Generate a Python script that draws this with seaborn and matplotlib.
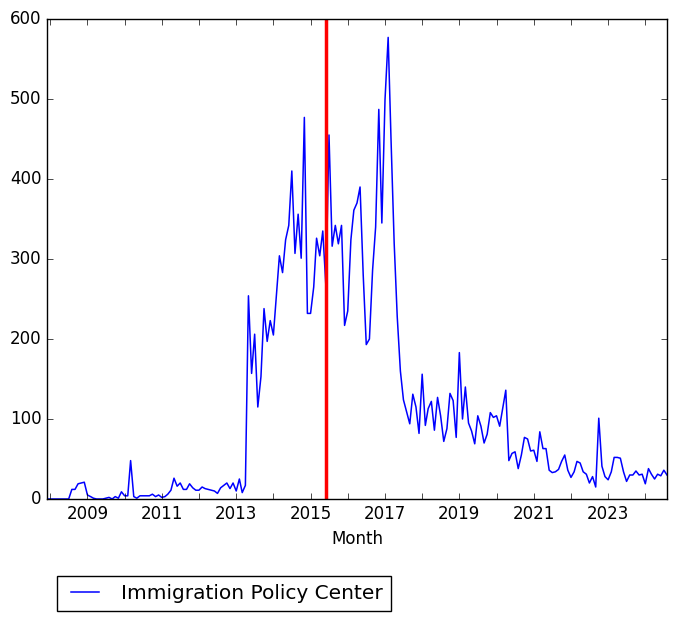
import pandas as pd
import matplotlib
matplotlib.use('Agg')
import matplotlib.pyplot as plt
import matplotlib.dates as mdates
import seaborn as sns

# --- datos (conteos mensuales) ---
start_month = '2007-12-01'
n_months = 201
counts = [
    0, 0, 0, 0, 0, 0, 0, 0,
    12, 12, 19, 20, 21,
    5, 3, 1, 0, 0, 0, 1, 2, 0, 3, 1, 9, 4, 4,
    48,
    3, 1, 4, 4, 4, 4, 6, 3, 5, 2, 3, 6, 11,
    26, 16, 20, 12, 12, 19, 14, 11, 11, 15, 13, 12, 11, 10, 7, 14, 17, 20, 13, 20, 10, 25, 8, 17,
    254, 157, 206, 115, 153, 238, 197, 223, 205, 257, 304, 283, 324, 342, 410, 307, 356, 301,
    477, 232, 232, 265, 326, 304, 335, 265, 455, 316, 342, 319, 342, 217, 235, 324, 361, 370, 390, 280,
    193, 200, 286, 340, 487, 345, 499, 577,
    450, 320, 228, 160, 124, 109, 94, 131, 115, 82, 156, 92, 113, 122, 86, 127, 104, 72, 88, 132, 123, 77, 183,
    100, 140, 95, 85, 69, 104, 91, 70, 81, 108, 102, 104, 91, 113, 136,
    48, 57, 59, 38, 55, 77, 75, 60, 61, 47,
    84, 63, 63, 36, 33, 34, 37, 47, 55, 36, 27, 34, 47, 45, 34, 31, 20, 28, 15, 101, 41, 28, 24, 34,
    52, 52, 51, 34, 22, 30, 30, 35, 30, 31, 19, 38, 31, 25, 31, 29, 36, 30,
]
series_name = 'Immigration Policy Center'
event_date = '2015-06-01'
label_years = [2009, 2011, 2013, 2015, 2017, 2019, 2021, 2023]

df = pd.DataFrame({
    'Month': pd.date_range(start_month, periods=n_months, freq='MS'),
    'count': counts,
})

plt.style.use('classic')
plt.rcParams['figure.facecolor'] = 'white'
plt.rcParams['savefig.facecolor'] = 'white'
plt.rcParams['font.family'] = ['DejaVu Sans']

fig = plt.figure(figsize=(6.77, 6.21), dpi=100)
ax = fig.add_axes([47 / 677, 1 - 499 / 621, 620 / 677, 480 / 621])

sns.lineplot(data=df, x='Month', y='count', color='b', linewidth=1.1,
             label=series_name, ax=ax)
ax.axvline(pd.Timestamp(event_date), color='red', linewidth=2.5)

ax.set_xlim(df['Month'].iloc[0], df['Month'].iloc[-1])
ax.set_ylim(0, 600)
ax.set_yticks(range(0, 601, 100))
ax.set_xticks([pd.Timestamp(f'{y}-01-01') for y in label_years])
ax.xaxis.set_major_formatter(mdates.DateFormatter('%Y'))
ax.xaxis.set_minor_locator(mdates.YearLocator(1))
ax.tick_params(axis='x', which='minor', length=4)
ax.tick_params(labelsize=12)
ax.set_xlabel('Month', fontsize=12)
ax.set_ylabel('')

ax.legend(loc='upper left', bbox_to_anchor=(0.016, -0.16), borderaxespad=0,
          fontsize=14.5, fancybox=False, frameon=True)

fig.savefig('out.png', dpi=100)
